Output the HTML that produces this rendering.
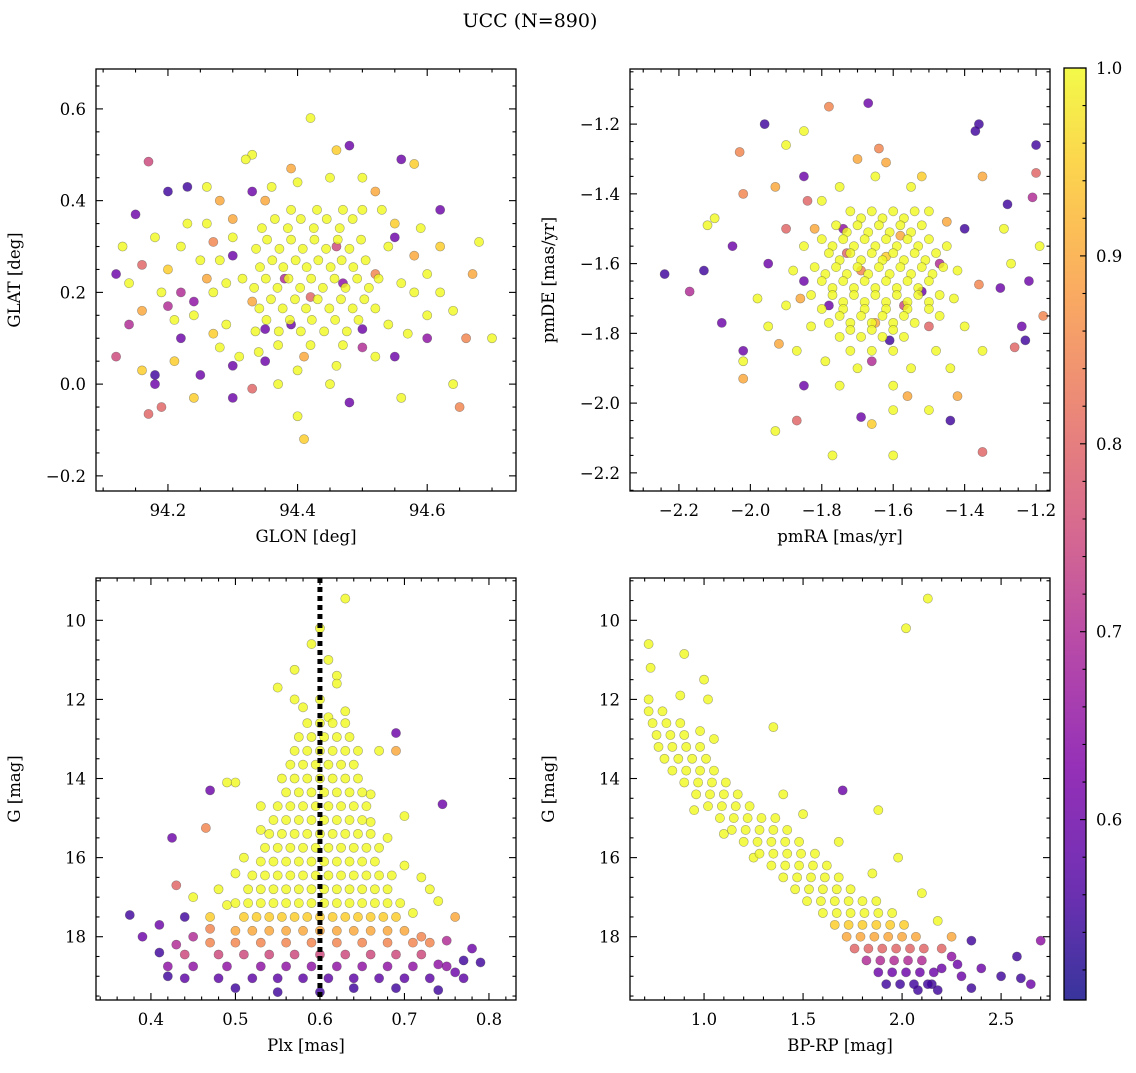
<!DOCTYPE html>
<html><head><meta charset="utf-8"><style>
body{margin:0;background:#fff;}
svg text{font-family:"DejaVu Serif","Liberation Serif",serif;fill:#000;}
</style></head><body>
<svg id="chart" width="1136" height="1068" viewBox="0 0 1136 1068" xmlns="http://www.w3.org/2000/svg">
<rect width="1136" height="1068" fill="#fff"/>
<text x="530" y="27" font-size="19" text-anchor="middle">UCC (N=890)</text>
<g id="layer"></g>
</svg>
<script>
const posPts=[[94.17,0.485,0.75],[94.2,0.42,0.55],[94.23,0.43,0.55],[94.15,0.37,0.6],[94.12,0.24,0.6],[94.12,0.06,0.75],[94.16,0.03,0.95],[94.17,-0.065,0.8],[94.19,-0.05,0.8],[94.18,0.0,0.6],[94.18,0.02,0.55],[94.24,-0.03,0.95],[94.25,0.02,0.6],[94.3,-0.03,0.6],[94.41,-0.12,0.95],[94.4,-0.07,1],[94.48,-0.04,0.6],[94.56,-0.03,1],[94.64,0.0,1],[94.65,-0.05,0.85],[94.7,0.1,1],[94.66,0.1,0.85],[94.67,0.24,0.9],[94.68,0.31,1],[94.62,0.38,0.6],[94.58,0.48,0.95],[94.56,0.49,0.6],[94.48,0.52,0.6],[94.46,0.51,0.95],[94.42,0.58,1],[94.33,0.5,1],[94.32,0.49,1],[94.39,0.47,0.9],[94.13,0.3,1],[94.14,0.13,0.7],[94.16,0.16,0.9],[94.2,0.17,0.7],[94.22,0.2,0.7],[94.23,0.35,1],[94.26,0.43,1],[94.28,0.27,1],[94.27,0.11,0.95],[94.3,0.04,0.6],[94.35,0.05,0.6],[94.33,0.42,0.6],[94.55,0.06,0.6],[94.6,0.15,1],[94.58,0.28,0.9],[94.55,0.35,0.95],[94.52,0.42,0.9],[94.5,0.08,0.7],[94.45,0.0,1],[94.37,0.0,1],[94.33,-0.01,0.8],[94.21,0.05,0.95],
[94.27,0.2,1],[94.25,0.27,1],[94.24,0.15,1],[94.22,0.3,1],[94.26,0.35,1],[94.28,0.4,0.9],[94.2,0.25,0.95],[94.18,0.32,1],[94.14,0.22,1],[94.16,0.26,0.8],[94.58,0.2,1],[94.6,0.24,1],[94.62,0.2,1],[94.57,0.11,1],[94.62,0.3,0.95],[94.53,0.38,1],[94.5,0.45,1],[94.45,0.45,1],[94.4,0.44,1],[94.36,0.43,1],[94.3,0.36,0.9],[94.52,0.06,1],[94.46,0.04,1],[94.4,0.03,1],[94.34,0.07,1],[94.28,0.08,1],[94.35,0.12,0.6],[94.5,0.12,0.6],[94.55,0.32,0.6],[94.3,0.28,0.6],[94.22,0.1,0.6],[94.24,0.18,0.65],[94.6,0.1,0.65],
[94.29,0.13,1],[94.54,0.13,1],[94.3,0.32,1],[94.54,0.3,1],[94.29,0.22,1],[94.56,0.22,1],[94.31,0.06,1],[94.5,0.38,1],[94.35,0.4,0.9],[94.41,0.06,0.9],[94.42,0.19,0.8],[94.38,0.23,0.7],[94.46,0.3,0.75],[94.33,0.18,0.9],[94.52,0.24,0.85],[94.39,0.13,0.6],[94.47,0.22,0.65],[94.19,0.2,1],[94.21,0.14,1],[94.26,0.23,0.9],[94.64,0.16,1],[94.59,0.34,1],[94.27,0.31,0.85]];
const posRowY=[0.085,0.115,0.14,0.165,0.185,0.21,0.23,0.255,0.27,0.295,0.315,0.34,0.36,0.38];
const posRowX=[[94.37,94.42,94.47],[94.335,94.371,94.405,94.441,94.476],[94.352,94.388,94.422,94.458,94.494],[94.341,94.377,94.413,94.449,94.485,94.52],[94.359,94.396,94.431,94.467,94.503],[94.333,94.369,94.404,94.439,94.474,94.51],[94.315,94.351,94.386,94.421,94.457,94.492,94.525],[94.342,94.378,94.414,94.451,94.486],[94.361,94.397,94.432,94.468,94.505],[94.336,94.372,94.408,94.444,94.48],[94.353,94.39,94.426,94.462,94.498],[94.345,94.385,94.425,94.465],[94.365,94.405,94.445,94.485],[94.39,94.43,94.47]];
const posRowP=[1,1,1,1,1,1,1,1,1,1,1,1,1,1];

const pmPts=[[-2.24,-1.63,0.55],[-2.13,-1.62,0.55],[-2.17,-1.68,0.7],[-2.1,-1.47,1],[-2.12,-1.49,1],[-2.08,-1.77,0.6],[-2.05,-1.55,0.6],[-2.02,-1.93,0.9],[-2.02,-1.85,0.6],[-2.02,-1.88,1],[-2.03,-1.28,0.85],[-2.02,-1.4,0.85],[-1.96,-1.2,0.55],[-1.93,-1.38,0.9],[-1.9,-1.26,1],[-1.85,-1.22,1],[-1.84,-1.42,0.8],[-1.93,-2.08,1],[-1.87,-2.05,0.8],[-1.77,-2.15,1],[-1.78,-1.15,0.85],[-1.67,-1.14,0.6],[-1.64,-1.27,0.85],[-1.62,-1.31,0.9],[-1.6,-2.02,1],[-1.6,-2.15,1],[-1.66,-2.06,0.95],[-1.69,-2.04,0.6],[-1.44,-2.05,0.55],[-1.35,-2.14,0.8],[-1.36,-1.2,0.55],[-1.37,-1.22,0.55],[-1.35,-1.35,0.9],[-1.28,-1.43,0.55],[-1.29,-1.5,1],[-1.2,-1.26,0.55],[-1.2,-1.34,0.8],[-1.21,-1.41,0.7],[-1.19,-1.55,1],[-1.22,-1.65,0.6],[-1.24,-1.78,0.6],[-1.18,-1.75,0.85],[-1.23,-1.82,0.55],[-1.26,-1.84,0.8],[-1.27,-1.6,1],[-1.3,-1.67,0.6],[-1.35,-1.85,1],[-1.42,-1.98,0.9],[-1.5,-2.02,1],[-1.85,-1.95,0.6],[-1.98,-1.7,1],[-1.95,-1.6,0.6],[-1.9,-1.5,0.8],[-1.4,-1.5,0.55],[-1.36,-1.66,0.85],
[-1.5,-1.45,1],[-1.42,-1.62,1],[-1.43,-1.7,1],[-1.88,-1.62,1],[-1.9,-1.72,1],[-1.87,-1.85,1],[-1.8,-1.42,1],[-1.75,-1.38,1],[-1.65,-1.35,1],[-1.55,-1.38,1],[-1.45,-1.48,0.9],[-1.4,-1.78,1],[-1.44,-1.9,1],[-1.6,-1.95,1],[-1.75,-1.95,1],[-1.82,-1.5,0.9],[-1.95,-1.78,1],[-1.92,-1.83,0.9],[-1.56,-1.98,0.9],[-1.7,-1.3,0.9],[-1.52,-1.35,0.95],[-1.85,-1.35,0.6],[-1.48,-1.85,1],[-1.79,-1.88,1],[-1.55,-1.9,1],[-1.7,-1.9,1],[-1.85,-1.55,1],[-1.45,-1.55,1],[-1.83,-1.78,1],[-1.47,-1.75,1],[-1.86,-1.7,0.9],
[-1.65,-1.77,0.9],[-1.58,-1.52,0.9],[-1.73,-1.57,0.8],[-1.66,-1.88,0.7],[-1.52,-1.68,0.6],[-1.78,-1.72,0.6],[-1.61,-1.82,0.55],[-1.85,-1.65,0.6],[-1.47,-1.6,0.7],[-1.69,-1.62,0.85],[-1.57,-1.72,0.75],[-1.74,-1.5,0.65],[-1.62,-1.58,0.95],[-1.5,-1.78,0.8]];
const pmRowY=[-1.45,-1.47,-1.49,-1.51,-1.53,-1.55,-1.57,-1.59,-1.61,-1.63,-1.65,-1.67,-1.69,-1.71,-1.73,-1.75,-1.77,-1.79,-1.81,-1.85];
const pmRowX=[[-1.72,-1.66,-1.6,-1.54],[-1.69,-1.63,-1.57],[-1.76,-1.7,-1.64,-1.58,-1.52],[-1.73,-1.67,-1.61,-1.55],[-1.8,-1.74,-1.68,-1.62,-1.56,-1.5],[-1.77,-1.71,-1.65,-1.59,-1.53],[-1.78,-1.72,-1.66,-1.6,-1.54,-1.48],[-1.75,-1.69,-1.63,-1.57,-1.51],[-1.82,-1.76,-1.7,-1.64,-1.58,-1.52,-1.46],[-1.79,-1.73,-1.67,-1.61,-1.55,-1.49],[-1.8,-1.74,-1.68,-1.62,-1.56,-1.5],[-1.77,-1.71,-1.65,-1.59,-1.53],[-1.83,-1.77,-1.71,-1.65,-1.59,-1.53,-1.47],[-1.74,-1.68,-1.62,-1.56,-1.5],[-1.8,-1.74,-1.68,-1.62,-1.56,-1.5],[-1.75,-1.69,-1.63,-1.57],[-1.78,-1.72,-1.66,-1.6,-1.54],[-1.72,-1.66,-1.6],[-1.75,-1.69,-1.63,-1.57],[-1.72,-1.66,-1.6]];
const pmRowP=[1,1,1,1,1,1,1,1,1,1,1,1,1,1,1,1,1,1,1,1];

const plxPts=[[0.63,9.45,1],[0.6,10.2,1],[0.59,10.6,1],[0.61,11.0,1],[0.57,11.25,1],[0.62,11.4,1],[0.55,11.7,1],[0.62,11.6,1],[0.6,12.0,1],[0.63,12.3,1],[0.58,12.2,1],[0.61,12.45,1],[0.67,13.3,1],[0.5,14.1,1],[0.53,14.7,1],[0.66,15.1,1],[0.7,14.95,1],[0.7,16.2,1],[0.5,16.4,1],[0.73,16.8,1],[0.48,16.8,1],[0.45,17.0,1],[0.71,17.4,1],[0.76,17.5,0.9],[0.47,17.5,0.95],[0.66,14.4,1],[0.69,13.3,0.9],[0.69,12.85,0.6],[0.745,14.65,0.6],[0.47,14.3,0.6],[0.465,15.25,0.85],[0.425,15.5,0.6],[0.43,16.7,0.8],[0.49,14.1,1],[0.57,12.0,1],[0.53,15.3,1],[0.68,15.5,1],[0.51,16.0,1],[0.72,16.5,1],[0.74,17.1,1],[0.49,17.2,1],
[0.375,17.45,0.55],[0.41,17.7,0.6],[0.44,17.5,0.55],[0.43,18.2,0.7],[0.41,18.4,0.55],[0.45,18.0,0.7],[0.75,18.1,0.7],[0.78,18.3,0.6],[0.77,18.6,0.55],[0.79,18.65,0.55],[0.74,18.7,0.65],[0.42,19.0,0.55],[0.74,19.35,0.55],[0.76,18.9,0.6],[0.64,19.3,0.55],[0.55,19.4,0.55],[0.6,19.4,0.55],[0.5,19.3,0.55],[0.69,19.3,0.55],[0.39,18.0,0.6],[0.72,18.0,0.85],[0.47,17.8,0.85]];
const plxRowG=[12.6,12.95,13.3,13.65,14.0,14.35,14.7,15.05,15.4,15.75,16.1,16.45,16.8,17.15,17.5,17.85,18.15,18.45,18.75,19.05];
const plxRowX=[[0.585,0.6,0.615,0.63],[0.575,0.59,0.605,0.62,0.635],[0.57,0.585,0.6,0.615,0.63,0.645],[0.565,0.58,0.595,0.61,0.625,0.64],[0.555,0.57,0.585,0.6,0.615,0.63,0.645],[0.56,0.575,0.59,0.605,0.62,0.635,0.65],[0.55,0.565,0.58,0.595,0.61,0.625,0.64,0.655],[0.545,0.56,0.575,0.59,0.605,0.62,0.635,0.65],[0.54,0.555,0.57,0.585,0.6,0.615,0.63,0.645,0.66],[0.535,0.55,0.565,0.58,0.595,0.61,0.625,0.64,0.655,0.67],[0.53,0.545,0.56,0.575,0.59,0.605,0.62,0.635,0.65,0.665],[0.52,0.535,0.55,0.565,0.58,0.595,0.61,0.625,0.64,0.655,0.67,0.685],[0.515,0.53,0.545,0.56,0.575,0.59,0.605,0.62,0.635,0.65,0.665,0.68],[0.5,0.515,0.53,0.545,0.56,0.575,0.59,0.605,0.62,0.635,0.65,0.665,0.68,0.695],[0.51,0.525,0.54,0.555,0.57,0.585,0.6,0.615,0.63,0.645,0.66,0.675,0.69],[0.5,0.52,0.54,0.56,0.58,0.6,0.62,0.64,0.66,0.68,0.7],[0.47,0.5,0.53,0.56,0.59,0.62,0.65,0.68,0.71,0.73],[0.44,0.48,0.51,0.54,0.57,0.6,0.63,0.66,0.69,0.72],[0.42,0.45,0.49,0.53,0.56,0.59,0.62,0.65,0.68,0.71,0.75],[0.44,0.48,0.52,0.55,0.58,0.61,0.64,0.67,0.7,0.73,0.77]];
const plxRowP=[1,1,1,1,1,1,1,1,1,1,1,1,1,1,0.95,0.9,0.85,0.75,0.65,0.58];

const cmdPts=[[0.72,10.6,1],[0.73,11.2,1],[0.72,12.0,1],[0.88,11.9,1],[0.9,10.85,1],[1.0,11.5,1],[1.02,12.0,1],[0.98,12.8,1],[1.05,13.0,1],[2.13,9.45,1],[2.02,10.2,1],[1.35,12.7,1],[1.4,14.4,1],[1.5,14.9,1],[1.88,14.8,1],[1.98,16.0,1],[2.1,16.9,1],[2.18,17.6,1],[0.95,14.8,1],[1.1,15.4,1],[1.25,16.0,1],[1.7,14.3,0.6],[1.68,15.6,1],[1.85,16.4,1],
[2.15,19.2,0.55],[2.2,18.8,0.6],[2.25,18.5,0.65],[2.3,19.0,0.6],[2.35,19.3,0.55],[2.35,18.1,0.55],[2.4,18.8,0.6],[2.5,19.0,0.55],[2.58,18.5,0.55],[2.6,19.05,0.55],[2.65,19.2,0.6],[2.7,18.1,0.65],[2.08,19.35,0.55],[2.25,18.0,0.9],[2.18,19.35,0.55],[2.2,18.3,0.8],[2.28,18.7,0.6]];
const cmdRowG=[12.3,12.6,12.9,13.2,13.5,13.8,14.1,14.4,14.7,15.0,15.3,15.6,15.9,16.2,16.5,16.8,17.1,17.4,17.7,18.0,18.3,18.6,18.9,19.2];
const cmdRowC=[[0.72,0.79],[0.74,0.81,0.88],[0.76,0.83,0.9],[0.77,0.84,0.91,0.98],[0.8,0.87,0.94,1.01],[0.84,0.91,0.98,1.05],[0.9,0.97,1.04,1.11],[0.96,1.03,1.1,1.17],[1.02,1.09,1.16,1.23],[1.08,1.15,1.22,1.29,1.36],[1.14,1.21,1.28,1.35,1.42],[1.2,1.27,1.34,1.41,1.48],[1.28,1.35,1.42,1.49,1.56],[1.34,1.41,1.48,1.55,1.62],[1.4,1.47,1.54,1.61,1.68],[1.46,1.53,1.6,1.67,1.74],[1.52,1.59,1.66,1.73,1.8,1.87],[1.6,1.67,1.74,1.81,1.88,1.95],[1.66,1.73,1.8,1.87,1.94,2.01],[1.72,1.79,1.86,1.93,2.0,2.07],[1.76,1.83,1.9,1.97,2.04,2.11],[1.82,1.89,1.96,2.03,2.1],[1.88,1.95,2.02,2.09,2.16],[1.92,1.99,2.06,2.13]];
const cmdRowP=[1,1,1,1,1,1,1,1,1,1,1,1,1,1,1,1,1,1,0.95,0.9,0.8,0.7,0.6,0.55];
const cbTicks=[0.6,0.7,0.8,0.9,1.0];

const NS="http://www.w3.org/2000/svg";
const layer=document.getElementById('layer');
function mk(tag,attrs,parent){const e=document.createElementNS(NS,tag);for(const k in attrs)e.setAttribute(k,attrs[k]);(parent||layer).appendChild(e);return e;}
function rowsX(ys,xs,ps){const out=[];ys.forEach((y,i)=>xs[i].forEach(x=>out.push([x,y,ps[i]])));return out;}
function rowsY(gs,xs,ps){const out=[];gs.forEach((g,i)=>xs[i].forEach(x=>out.push([x,g,ps[i]])));return out;}
const stops=[[0,[13,8,135]],[0.13,[84,2,163]],[0.25,[126,3,168]],[0.38,[168,34,150]],[0.5,[204,71,120]],[0.63,[230,108,92]],[0.75,[248,149,64]],[0.88,[253,196,39]],[1,[240,249,33]]];
const CMIN=0.504,CMAX=1.0;
function cmap(p){let t=Math.max(0,Math.min(1,(p-CMIN)/(CMAX-CMIN)));for(let i=1;i<stops.length;i++){if(t<=stops[i][0]){const a=stops[i-1],b=stops[i];const f=(t-a[0])/(b[0]-a[0]);const c=a[1].map((v,j)=>Math.round(v+(b[1][j]-v)*f));return `rgb(${c})`;}}return 'rgb(240,249,33)';}
function fmt(v,d){return (v<0?'\u2212':'')+Math.abs(v).toFixed(d);}

function panel(cfg){
  const {x0,y0,x1,y1,xmin,xmax,ymin,ymax,invY,pts,name}=cfg;
  const sx=v=>x0+(v-xmin)/(xmax-xmin)*(x1-x0);
  const sy=v=>invY? y0+(v-ymin)/(ymax-ymin)*(y1-y0) : y1-(v-ymin)/(ymax-ymin)*(y1-y0);
  const g=mk('g',{});
  
  
  const clip=mk('clipPath',{id:'c'+name},g);mk('rect',{x:x0,y:y0,width:x1-x0,height:y1-y0},clip);
  const pg=mk('g',{'clip-path':`url(#c${name})`},g);
  const sorted=pts.slice().sort((a,b)=>a[2]-b[2]);
  sorted.forEach(d=>{const c=mk('circle',{cx:sx(d[0]),cy:sy(d[1]),r:4.6,fill:cmap(d[2]),'fill-opacity':0.82,stroke:'rgba(60,60,60,0.45)','stroke-width':0.6},pg);
    
    });
  if(cfg.vline!==undefined){const l=mk('line',{x1:sx(cfg.vline),x2:sx(cfg.vline),y1:y0,y2:y1,stroke:'#000','stroke-width':5,'stroke-dasharray':'5,4'},pg);
    
    }
  const fr=mk('rect',{x:x0,y:y0,width:x1-x0,height:y1-y0,fill:'none',stroke:'#000','stroke-width':1.3},g);
  
  
  const tk=(a,b,c,d)=>mk('line',{x1:a,y1:b,x2:c,y2:d,stroke:'#000','stroke-width':1.1},g);
  const lo=Math.min(xmin,xmax),hi=Math.max(xmin,xmax);
  for(let k=Math.ceil(lo/cfg.xminor-1e-6);k*cfg.xminor<=hi+1e-9;k++){const v=k*cfg.xminor;const X=sx(v);const maj=Math.abs(v/cfg.xmajor-Math.round(v/cfg.xmajor))<1e-6;const L=maj?7:3.5;tk(X,y1,X,y1-L);tk(X,y0,X,y0+L);
    if(maj){const t=mk('text',{x:X,y:y1+25,'font-size':16.5,'text-anchor':'middle'},g);t.textContent=fmt(v,cfg.xdec);}}
  const ylo=Math.min(ymin,ymax),yhi=Math.max(ymin,ymax);
  for(let k=Math.ceil(ylo/cfg.yminor-1e-6);k*cfg.yminor<=yhi+1e-9;k++){const v=k*cfg.yminor;const Y=sy(v);const maj=Math.abs(v/cfg.ymajor-Math.round(v/cfg.ymajor))<1e-6;const L=maj?7:3.5;tk(x0,Y,x0+L,Y);tk(x1,Y,x1-L,Y);
    if(maj){const t=mk('text',{x:x0-10,y:Y+6,'font-size':16.5,'text-anchor':'end'},g);t.textContent=fmt(v,cfg.ydec);}}
  const xl=mk('text',{x:(x0+x1)/2,y:y1+51,'font-size':16.5,'text-anchor':'middle'},g);xl.textContent=cfg.xlabel;
  
  const yx=x0-76,yy=(y0+y1)/2;
  const yl=mk('text',{x:yx,y:yy,'font-size':16.5,'text-anchor':'middle',transform:`rotate(-90 ${yx} ${yy})`},g);yl.textContent=cfg.ylabel;
  
}
panel({name:'glon-glat-panel',x0:96,y0:69,x1:516,y1:491,xmin:94.089,xmax:94.737,ymin:-0.233,ymax:0.687,pts:posPts.concat(rowsX(posRowY,posRowX,posRowP)),xmajor:0.2,xminor:0.05,ymajor:0.2,yminor:0.05,xdec:1,ydec:1,xlabel:'GLON [deg]',ylabel:'GLAT [deg]'});
panel({name:'pm-panel',x0:630,y0:69,x1:1050,y1:491,xmin:-2.337,xmax:-1.161,ymin:-2.252,ymax:-1.042,pts:pmPts.concat(rowsX(pmRowY,pmRowX,pmRowP)),xmajor:0.2,xminor:0.05,ymajor:0.2,yminor:0.05,xdec:1,ydec:1,xlabel:'pmRA [mas/yr]',ylabel:'pmDE [mas/yr]'});
panel({name:'plx-g-panel',x0:96,y0:578,x1:516,y1:1000,xmin:0.335,xmax:0.832,ymin:8.93,ymax:19.6,invY:true,pts:plxPts.concat(rowsY(plxRowG,plxRowX,plxRowP)),xmajor:0.1,xminor:0.02,ymajor:2,yminor:0.5,xdec:1,ydec:0,xlabel:'Plx [mas]',ylabel:'G [mag]',vline:0.6});
panel({name:'cmd-panel',x0:630,y0:578,x1:1050,y1:1000,xmin:0.626,xmax:2.747,ymin:8.93,ymax:19.6,invY:true,pts:cmdPts.concat(rowsY(cmdRowG,cmdRowC,cmdRowP)),xmajor:0.5,xminor:0.1,ymajor:2,yminor:0.5,xdec:1,ydec:0,xlabel:'BP-RP [mag]',ylabel:'G [mag]'});

(function(){
  const x0=1064,x1=1086,y0=68,y1=1000;
  const cy=v=>y1-(v-CMIN)/(CMAX-CMIN)*(y1-y0);
  const g=mk('g',{});
  
  
  const defs=mk('defs',{},g);const lg=mk('linearGradient',{id:'cbg',x1:0,y1:1,x2:0,y2:0},defs);
  for(let i=0;i<=20;i++){const p=CMIN+(CMAX-CMIN)*i/20;mk('stop',{offset:i/20,'stop-color':cmap(p),'stop-opacity':0.82},lg);}
  mk('rect',{x:x0,y:y0,width:x1-x0,height:y1-y0,fill:'url(#cbg)',stroke:'#000','stroke-width':1.3},g);
  for(let k=Math.ceil(CMIN/0.02);k*0.02<=CMAX+1e-9;k++){const v=k*0.02;const Y=cy(v);const maj=Math.abs(v*10-Math.round(v*10))<1e-6;mk('line',{x1:x1,x2:x1-(maj?6:3.5),y1:Y,y2:Y,stroke:'#000','stroke-width':1.1},g);}
  cbTicks.forEach(v=>{const t=mk('text',{x:x1+10,y:cy(v)+6,'font-size':16.5},g);t.textContent=v.toFixed(1);
    });
})();
</script>
</body></html>
